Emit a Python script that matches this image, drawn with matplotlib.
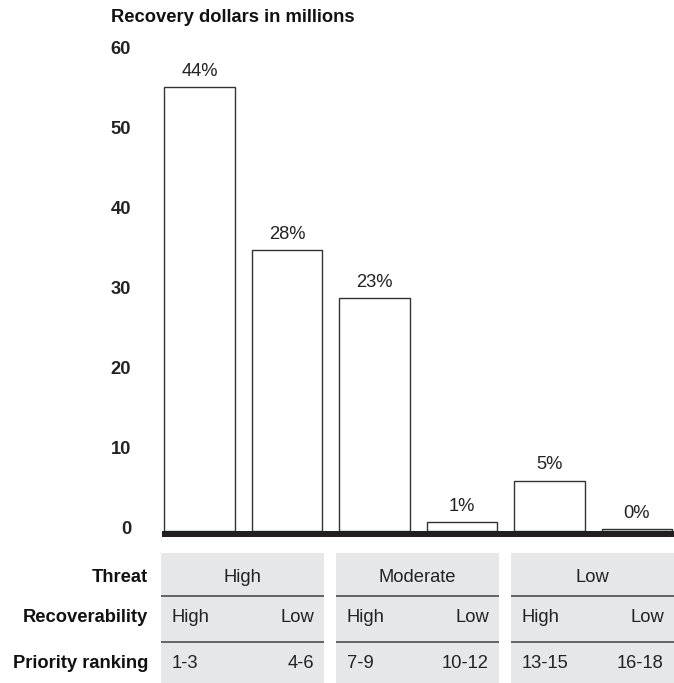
import matplotlib.pyplot as plt
from matplotlib.patches import Rectangle
from matplotlib.transforms import ScaledTranslation

plt.rcParams['font.family'] = ['Liberation Sans', 'DejaVu Sans']

# recovery dollars (millions) per priority group, with share of total
recovery = [55.5, 35.1, 29.1, 1.1, 6.3, 0.25]
percent_labels = ['44%', '28%', '23%', '1%', '5%', '0%']
yticks = [0, 10, 20, 30, 40, 50, 60]

threat_levels = ['High', 'Moderate', 'Low']
recoverability = ['High', 'Low']
priority_ranks = ['1-3', '4-6', '7-9', '10-12', '13-15', '16-18']
row_titles = ['Threat', 'Recoverability', 'Priority ranking']

W, H = 674, 683
fig = plt.figure(figsize=(W / 100, H / 100), dpi=100)


def frac(x0, y0, x1, y1):
    # pixel box (top-left origin) -> figure fraction rect
    return [x0 / W, 1 - y1 / H, (x1 - x0) / W, (y1 - y0) / H]


ax = fig.add_axes(frac(162, 40, 674, 545))
x = range(len(recovery))
bw = 0.81
ax.bar(x, recovery, width=bw, facecolor='white', edgecolor='#333333',
       linewidth=1.0, zorder=2)
ax.axhspan(-0.69, 0, color='#231f20', lw=0, zorder=3)

for i, (v, p) in enumerate(zip(recovery, percent_labels)):
    ax.annotate(p, (i, v), xytext=(0, 11.3), textcoords='offset points',
                ha='center', va='center', fontsize=13.2, color='#222222')

ax.set_xlim(-0.4286, 5.423)
ax.set_ylim(-1.75, 61.375)
ax.set_yticks(yticks)
ax.set_yticklabels([str(t) for t in yticks], fontweight='bold')
ax.tick_params(axis='y', length=0, pad=22.3, labelsize=13.2, labelcolor='#222222')
ax.set_xticks([])
for lab in ax.get_yticklabels():
    lab.set_transform(lab.get_transform() + ScaledTranslation(0, 0.04, fig.dpi_scale_trans))
for s in ax.spines.values():
    s.set_visible(False)

fig.text(111 / W, 1 - 17.5 / H, 'Recovery dollars in millions', fontsize=13.2,
         fontweight='bold', va='center', ha='left', color='#111111')

# category table under the bars
tab = fig.add_axes(frac(162, 553, 674, 683), sharex=ax)
tab.set_ylim(130, 0)
tab.axis('off')
row_edges = [43, 89]
row_mid = [24, 65, 110]
pad_l, pad_r = 0.034, 0.02
cell = dict(textcoords='offset points', va='center', fontsize=13.2,
            color='#222222', annotation_clip=False)
for g, level in enumerate(threat_levels):
    left = 2 * g - bw / 2 - pad_l
    right = 2 * g + 1 + bw / 2 + pad_r
    tab.add_patch(Rectangle((left, 0), right - left, 130, facecolor='#e6e7e8',
                            edgecolor='none', clip_on=False))
    tab.hlines(row_edges, left, right, color='#4d4d4d', lw=1.2, clip_on=False)
    tab.text((left + right) / 2, row_mid[0], level, ha='center', va='center',
             fontsize=13.2, color='#222222')
    tab.annotate(recoverability[0], (left, row_mid[1]), xytext=(7.5, 0),
                 ha='left', **cell)
    tab.annotate(recoverability[1], (right, row_mid[1]), xytext=(-7.5, 0),
                 ha='right', **cell)
    tab.annotate(priority_ranks[2 * g], (left, row_mid[2]), xytext=(7.5, 0),
                 ha='left', **cell)
    tab.annotate(priority_ranks[2 * g + 1], (right, row_mid[2]), xytext=(-7.5, 0),
                 ha='right', **cell)

for title, y in zip(row_titles, row_mid):
    tab.annotate(title, (0, y), xycoords=('axes fraction', 'data'),
                 xytext=(-10, 0), textcoords='offset points', ha='right',
                 va='center', fontsize=13.2, fontweight='bold', color='#111111')

fig.savefig('out.png', dpi=100)
